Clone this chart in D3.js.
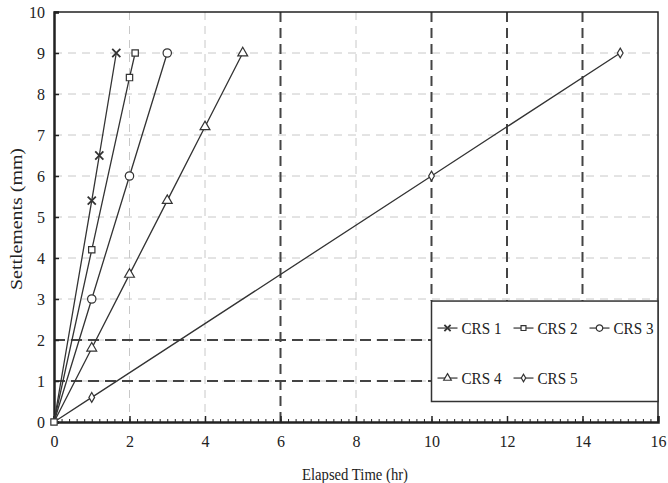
<!DOCTYPE html>
<html>
<head>
<meta charset="utf-8">
<script src="https://cdn.jsdelivr.net/npm/d3@7"></script>
<style>
	body { margin: 0; background: #fff; }
</style>
</head>
<body>
<script>
// data
const seriesNames = ['CRS 1', 'CRS 2', 'CRS 3', 'CRS 4', 'CRS 5']
const markers = ['cross', 'square', 'circle', 'triangle', 'diamond']
const crs1 = [[0, 0], [1, 5.4], [1.2, 6.5], [1.65, 9]]
const crs2 = [[0, 0], [1, 4.2], [2, 8.4], [2.15, 9]]
const crs3 = [[0, 0], [1, 3], [2, 6], [3, 9]]
const crs4 = [[0, 0], [1, 1.8], [2, 3.6], [3, 5.4], [4, 7.2], [5, 9]]
const crs5 = [[0, 0], [1, 0.6], [10, 6], [15, 9]]
const xTicks = [0, 2, 4, 6, 8, 10, 12, 14, 16]
const yTicks = [0, 1, 2, 3, 4, 5, 6, 7, 8, 9, 10]
const darkX = [6, 10, 12, 14]
const darkY = [1, 2]

const series = [crs1, crs2, crs3, crs4, crs5]
const FONT = "'Liberation Serif'"

const margin = { top: 12, right: 10, bottom: 61, left: 54 }
const W = 668, H = 483
const width = W - margin.left - margin.right
const height = H - margin.top - margin.bottom

const svg = d3.select('body').append('svg')
	.attr('width', W)
	.attr('height', H)

const g = svg.append('g')
	.attr('transform', `translate(${margin.left},${margin.top})`)

const x = d3.scaleLinear().domain([0, 16]).range([0, width])
const y = d3.scaleLinear().domain([0, 10]).range([height, 0])

// legend box bounds in data units
const legendX0 = 10
const legendTop = 2.95
const legendBottom = 0.5

// light grid
g.append('g')
	.selectAll('line')
	.data(yTicks.slice(1, -1))
	.join('line')
		.attr('x1', 0).attr('x2', width)
		.attr('y1', d => y(d)).attr('y2', d => y(d))
		.attr('stroke', '#c8c8c8')
		.attr('stroke-dasharray', '8,6')

g.append('g')
	.selectAll('line')
	.data(xTicks.slice(1, -1).filter(d => !darkX.includes(d)))
	.join('line')
		.attr('x1', d => x(d)).attr('x2', d => x(d))
		.attr('y1', 0).attr('y2', height)
		.attr('stroke', '#c8c8c8')
		.attr('stroke-dasharray', '8,6')

// dark dashed reference lines
g.append('g')
	.selectAll('line')
	.data(darkX)
	.join('line')
		.attr('x1', d => x(d)).attr('x2', d => x(d))
		.attr('y1', 0).attr('y2', d => d > 6 ? y(legendTop) : height)
		.attr('stroke', '#444')
		.attr('stroke-width', 2)
		.attr('stroke-dasharray', '10,6')

g.append('g')
	.selectAll('line')
	.data(darkY)
	.join('line')
		.attr('x1', 0).attr('x2', x(legendX0))
		.attr('y1', d => y(d)).attr('y2', d => y(d))
		.attr('stroke', '#444')
		.attr('stroke-width', 2)
		.attr('stroke-dasharray', '11,6')

// axes
const xAxis = d3.axisBottom(x).tickValues(xTicks).tickSize(-6).tickPadding(14)
const xMinor = d3.axisBottom(x).ticks(80).tickSize(-3).tickFormat('')
const yAxis = d3.axisLeft(y).tickValues(yTicks).tickSize(-5).tickPadding(9)

g.append('g')
	.attr('transform', `translate(0,${height})`)
	.call(xMinor)
	.call(a => a.select('.domain').remove())
	.selectAll('line').attr('stroke', '#222')

const gx = g.append('g')
	.attr('transform', `translate(0,${height})`)
	.call(xAxis)
gx.select('.domain').attr('stroke-width', 2.5).attr('stroke', '#222')
gx.selectAll('line').attr('stroke', '#222').attr('stroke-width', 1.5)
gx.selectAll('text').attr('font-family', FONT).attr('font-size', 16).attr('fill', '#222')

const gy = g.append('g').call(yAxis)
gy.select('.domain').attr('stroke-width', 2.5).attr('stroke', '#222')
gy.selectAll('line').attr('stroke', '#222').attr('stroke-width', 1.5)
gy.selectAll('text').attr('font-family', FONT).attr('font-size', 16).attr('fill', '#222')

// top / right frame
g.append('path')
	.attr('d', `M0,0H${width}V${height}`)
	.attr('fill', 'none')
	.attr('stroke', '#222')
	.attr('stroke-width', 1.5)

// series lines
const line = d3.line().x(d => x(d[0])).y(d => y(d[1]))

g.append('g')
	.selectAll('path')
	.data(series)
	.join('path')
		.attr('d', line)
		.attr('fill', 'none')
		.attr('stroke', '#333')
		.attr('stroke-width', 1.3)

const symbolTypes = {
	cross: d3.symbolTimes,
	square: d3.symbolSquare,
	circle: d3.symbolCircle,
	triangle: d3.symbolTriangle,
	diamond: d3.symbolDiamond
}
const symbolSize = { cross: 45, square: 40, circle: 55, triangle: 42, diamond: 28 }

const drawMarker = (sel, type, k = 1) => {
	sel.append('path')
		.attr('d', d3.symbol().type(symbolTypes[type]).size(symbolSize[type] * k)())
		.attr('fill', type === 'cross' ? 'none' : '#fff')
		.attr('stroke', '#333')
		.attr('stroke-width', type === 'cross' ? 1.8 : 1.2)
}

series.forEach((s, i) => {
	g.append('g')
		.selectAll('g')
		.data(s.slice(1))
		.join('g')
			.attr('transform', d => `translate(${x(d[0])},${y(d[1])})`)
			.each(function () { drawMarker(d3.select(this), markers[i]) })
})
// origin marker
g.append('g')
	.attr('transform', `translate(${x(0)},${y(0)})`)
	.call(sel => drawMarker(sel, 'square'))

// legend
const lg = g.append('g')
lg.append('rect')
	.attr('x', x(legendX0))
	.attr('y', y(legendTop))
	.attr('width', width - x(legendX0))
	.attr('height', y(legendBottom) - y(legendTop))
	.attr('fill', '#fff')
	.attr('stroke', '#333')
	.attr('stroke-width', 1.5)

const legendPos = [[0, 0], [1, 0], [2, 0], [0, 1], [1, 1]]
seriesNames.forEach((name, i) => {
	const [c, r] = legendPos[i]
	const item = lg.append('g')
		.attr('transform', `translate(${x(legendX0) + 6 + c * 76},${y(legendTop) + 27 + r * 50})`)
	item.append('line')
		.attr('x1', 0).attr('x2', 20)
		.attr('stroke', '#333').attr('stroke-width', 1.2)
	item.append('g')
		.attr('transform', 'translate(10,0)')
		.call(sel => drawMarker(sel, markers[i], 0.6))
	item.append('text')
		.attr('x', 24)
		.attr('dy', '0.35em')
		.attr('font-family', FONT)
		.attr('font-size', 16)
		.attr('fill', '#222')
		.attr('textLength', 40)
		.attr('lengthAdjust', 'spacingAndGlyphs')
		.text(name)
})

// axis titles
svg.append('text')
	.attr('transform', `translate(22,219) rotate(-90)`)
	.attr('text-anchor', 'middle')
	.attr('font-family', FONT)
	.attr('font-size', 17)
	.attr('fill', '#222')
	.attr('textLength', 142)
	.attr('lengthAdjust', 'spacingAndGlyphs')
	.text('Settlements (mm)')

svg.append('text')
	.attr('x', 355)
	.attr('y', 480)
	.attr('text-anchor', 'middle')
	.attr('font-family', FONT)
	.attr('font-size', 16)
	.attr('fill', '#222')
	.attr('textLength', 106)
	.attr('lengthAdjust', 'spacingAndGlyphs')
	.text('Elapsed Time (hr)')
</script>
</body>
</html>
